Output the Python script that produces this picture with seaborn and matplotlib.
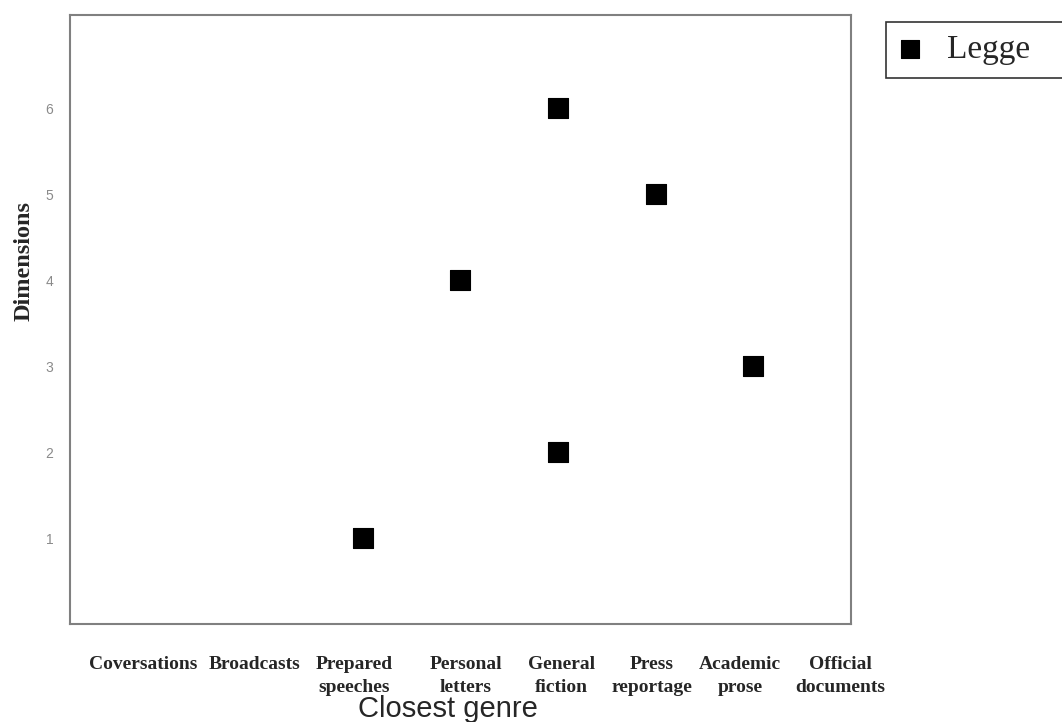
import numpy as np
import pandas as pd
import matplotlib
matplotlib.use("Agg")
import matplotlib.pyplot as plt
import matplotlib.transforms as mtransforms
import seaborn as sns

sns.set_style("white")
plt.rcParams['font.family'] = ['Liberation Serif', 'DejaVu Serif']

# genres along the x axis, in order
genres = ["Coversations", "Broadcasts", "Prepared speeches", "Personal letters",
          "General fiction", "Press reportage", "Academic prose", "Official documents"]
tick_labels = ["Coversations", "Broadcasts", "Prepared\nspeeches", "Personal\nletters",
               "General\nfiction", "Press\nreportage", "Academic\nprose", "Official\ndocuments"]

# Legge points: closest genre and dimension
point_genres = ["Prepared speeches", "Personal letters", "General fiction",
                "General fiction", "Press reportage", "Academic prose"]
dimensions = [1, 4, 6, 2, 5, 3]

genre_pos = {g: i + 1 for i, g in enumerate(genres)}
df = pd.DataFrame({
    'genre': point_genres,
    'pos': [genre_pos[g] for g in point_genres],
    'dimension': dimensions,
})

fig = plt.figure(figsize=(10.62, 7.22), dpi=100)
ax = fig.add_axes([0.0659, 0.1357, 0.7354, 0.8433])

sns.scatterplot(data=df, x='pos', y='dimension', marker='s', s=200,
                color='black', edgecolor='black', linewidth=0.8,
                label='Legge', ax=ax, zorder=3)

ax.set_xlim(0, len(genres))
ax.set_ylim(0, 7.08)

# frame
for side in ['left', 'right', 'top', 'bottom']:
    ax.spines[side].set_color('#808080')
    ax.spines[side].set_linewidth(1.5)

# y ticks: gray labels, no tick marks
ax.set_yticks(range(1, 7))
ax.tick_params(axis='y', length=0, pad=12, labelsize=10, labelcolor='#8a8a8a')
for lab in ax.get_yticklabels():
    lab.set_family('Liberation Sans')

# x: tick marks at category boundaries (minor), labels at category positions (major)
ax.set_xticks(np.arange(0, len(genres) + 1), minor=True)
ax.set_xticks(np.arange(1, len(genres) + 1))
ax.set_xticklabels(tick_labels)
ax.tick_params(axis='x', which='minor', length=5, width=1.3, color='#555555', direction='out')
ax.tick_params(axis='x', which='major', length=0, pad=23, labelsize=14)
nudges = [-24, -11, -9, 5, 3, -4, -13, -11]
for lab, dx in zip(ax.get_xticklabels(), nudges):
    lab.set_fontweight('bold')
    lab.set_linespacing(1.45)
    lab.set_transform(lab.get_transform() +
                      mtransforms.ScaledTranslation(dx / 100, 0, fig.dpi_scale_trans))

ax.set_xlabel('Closest genre', family='Liberation Sans', fontsize=21, labelpad=0)
ax.xaxis.set_label_coords(0.484, -0.116)
ax.set_ylabel('Dimensions', fontsize=17.5, fontweight='bold')
ax.yaxis.set_label_coords(-0.046, 0.596)

leg = ax.legend(loc='upper left', bbox_to_anchor=(886 / 1062, 0, 0.2, 1 - 22 / 722),
                bbox_transform=fig.transFigure, borderaxespad=0, mode='expand',
                frameon=True, fancybox=False, edgecolor='black',
                prop={'family': 'Liberation Serif', 'size': 24},
                handlelength=0.7, handletextpad=0.75, borderpad=0.38, markerscale=0.9)
leg.get_frame().set_linewidth(1.2)

fig.savefig('out.png', dpi=100)
